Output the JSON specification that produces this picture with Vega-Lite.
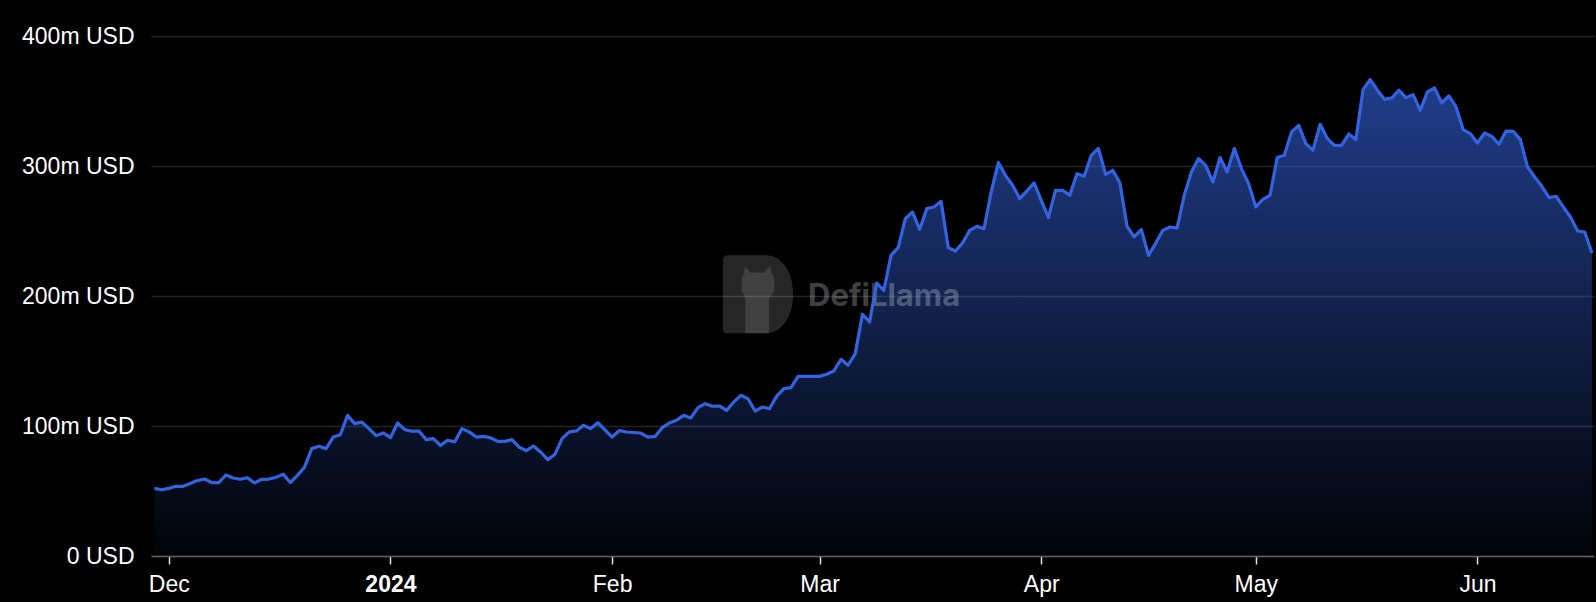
{
  "$schema": "https://vega.github.io/schema/vega-lite/v6.json",
  "width": 1443,
  "height": 520,
  "autosize": {"type": "none"},
  "padding": {"left": 151, "right": 2, "top": 36, "bottom": 46},
  "background": "#000000",
  "config": {
    "view": {"stroke": null},
    "font": "Liberation Sans",
    "axis": {"labelFont": "Liberation Sans"}
  },
  "datasets": {
    "tvl": [
      {"date": "2023-11-29", "tvl": 52}, {"date": "2023-11-30", "tvl": 51},
      {"date": "2023-12-01", "tvl": 52}, {"date": "2023-12-02", "tvl": 53.6}, {"date": "2023-12-03", "tvl": 53.6},
      {"date": "2023-12-04", "tvl": 55.7}, {"date": "2023-12-05", "tvl": 58}, {"date": "2023-12-06", "tvl": 59.2},
      {"date": "2023-12-07", "tvl": 56.5}, {"date": "2023-12-08", "tvl": 56.5}, {"date": "2023-12-09", "tvl": 62.3},
      {"date": "2023-12-10", "tvl": 60}, {"date": "2023-12-11", "tvl": 59}, {"date": "2023-12-12", "tvl": 60.2},
      {"date": "2023-12-13", "tvl": 56.2}, {"date": "2023-12-14", "tvl": 59}, {"date": "2023-12-15", "tvl": 59.2},
      {"date": "2023-12-16", "tvl": 60.5}, {"date": "2023-12-17", "tvl": 63}, {"date": "2023-12-18", "tvl": 56.5},
      {"date": "2023-12-19", "tvl": 62}, {"date": "2023-12-20", "tvl": 68.5}, {"date": "2023-12-21", "tvl": 82.6},
      {"date": "2023-12-22", "tvl": 84.4}, {"date": "2023-12-23", "tvl": 82.6}, {"date": "2023-12-24", "tvl": 91.5},
      {"date": "2023-12-25", "tvl": 93.3}, {"date": "2023-12-26", "tvl": 108.2}, {"date": "2023-12-27", "tvl": 101.8},
      {"date": "2023-12-28", "tvl": 103}, {"date": "2023-12-29", "tvl": 98}, {"date": "2023-12-30", "tvl": 92.6},
      {"date": "2023-12-31", "tvl": 94.7}, {"date": "2024-01-01", "tvl": 91}, {"date": "2024-01-02", "tvl": 102.3},
      {"date": "2024-01-03", "tvl": 97.2}, {"date": "2024-01-04", "tvl": 96}, {"date": "2024-01-05", "tvl": 96},
      {"date": "2024-01-06", "tvl": 89.5}, {"date": "2024-01-07", "tvl": 90.3}, {"date": "2024-01-08", "tvl": 85},
      {"date": "2024-01-09", "tvl": 89}, {"date": "2024-01-10", "tvl": 87.8}, {"date": "2024-01-11", "tvl": 98},
      {"date": "2024-01-12", "tvl": 95.5}, {"date": "2024-01-13", "tvl": 91.5}, {"date": "2024-01-14", "tvl": 92},
      {"date": "2024-01-15", "tvl": 91}, {"date": "2024-01-16", "tvl": 88.2}, {"date": "2024-01-17", "tvl": 88.2},
      {"date": "2024-01-18", "tvl": 89.5}, {"date": "2024-01-19", "tvl": 83.8}, {"date": "2024-01-20", "tvl": 81},
      {"date": "2024-01-21", "tvl": 84.6}, {"date": "2024-01-22", "tvl": 80}, {"date": "2024-01-23", "tvl": 74.1},
      {"date": "2024-01-24", "tvl": 78.2}, {"date": "2024-01-25", "tvl": 90.3}, {"date": "2024-01-26", "tvl": 95.5},
      {"date": "2024-01-27", "tvl": 96.2}, {"date": "2024-01-28", "tvl": 100.5}, {"date": "2024-01-29", "tvl": 98},
      {"date": "2024-01-30", "tvl": 102.5}, {"date": "2024-01-31", "tvl": 97}, {"date": "2024-02-01", "tvl": 91.5},
      {"date": "2024-02-02", "tvl": 96.5}, {"date": "2024-02-03", "tvl": 95.4}, {"date": "2024-02-04", "tvl": 95},
      {"date": "2024-02-05", "tvl": 94.6}, {"date": "2024-02-06", "tvl": 91.5}, {"date": "2024-02-07", "tvl": 92},
      {"date": "2024-02-08", "tvl": 98.7}, {"date": "2024-02-09", "tvl": 102.3}, {"date": "2024-02-10", "tvl": 104.4},
      {"date": "2024-02-11", "tvl": 108.2}, {"date": "2024-02-12", "tvl": 106.2}, {"date": "2024-02-13", "tvl": 114.1},
      {"date": "2024-02-14", "tvl": 117.2}, {"date": "2024-02-15", "tvl": 115.2}, {"date": "2024-02-16", "tvl": 115.4},
      {"date": "2024-02-17", "tvl": 112}, {"date": "2024-02-18", "tvl": 118.4}, {"date": "2024-02-19", "tvl": 123.6},
      {"date": "2024-02-20", "tvl": 121}, {"date": "2024-02-21", "tvl": 111.5}, {"date": "2024-02-22", "tvl": 114.6},
      {"date": "2024-02-23", "tvl": 113.3}, {"date": "2024-02-24", "tvl": 122.8}, {"date": "2024-02-25", "tvl": 128.7},
      {"date": "2024-02-26", "tvl": 129.5}, {"date": "2024-02-27", "tvl": 138.2}, {"date": "2024-02-28", "tvl": 138.2},
      {"date": "2024-02-29", "tvl": 138.2}, {"date": "2024-03-01", "tvl": 138.2}, {"date": "2024-03-02", "tvl": 139.8},
      {"date": "2024-03-03", "tvl": 142.3}, {"date": "2024-03-04", "tvl": 151.3}, {"date": "2024-03-05", "tvl": 146.7},
      {"date": "2024-03-06", "tvl": 155.7}, {"date": "2024-03-07", "tvl": 185.9}, {"date": "2024-03-08", "tvl": 180},
      {"date": "2024-03-09", "tvl": 210}, {"date": "2024-03-10", "tvl": 204.4}, {"date": "2024-03-11", "tvl": 231.3},
      {"date": "2024-03-12", "tvl": 237.2}, {"date": "2024-03-13", "tvl": 259.5}, {"date": "2024-03-14", "tvl": 264.6},
      {"date": "2024-03-15", "tvl": 251.1}, {"date": "2024-03-16", "tvl": 267.2}, {"date": "2024-03-17", "tvl": 268.5},
      {"date": "2024-03-18", "tvl": 272.8}, {"date": "2024-03-19", "tvl": 237.2}, {"date": "2024-03-20", "tvl": 234.6},
      {"date": "2024-03-21", "tvl": 240.8}, {"date": "2024-03-22", "tvl": 250.5}, {"date": "2024-03-23", "tvl": 253.6},
      {"date": "2024-03-24", "tvl": 251.8}, {"date": "2024-03-25", "tvl": 280}, {"date": "2024-03-26", "tvl": 302.6},
      {"date": "2024-03-27", "tvl": 292.8}, {"date": "2024-03-28", "tvl": 285.2}, {"date": "2024-03-29", "tvl": 274.9},
      {"date": "2024-03-30", "tvl": 280.8}, {"date": "2024-03-31", "tvl": 287}, {"date": "2024-04-01", "tvl": 273.6},
      {"date": "2024-04-02", "tvl": 260.3}, {"date": "2024-04-03", "tvl": 281.3}, {"date": "2024-04-04", "tvl": 281.3},
      {"date": "2024-04-05", "tvl": 277.5}, {"date": "2024-04-06", "tvl": 294.1}, {"date": "2024-04-07", "tvl": 292.1},
      {"date": "2024-04-08", "tvl": 308.2}, {"date": "2024-04-09", "tvl": 313.5}, {"date": "2024-04-10", "tvl": 293.6},
      {"date": "2024-04-11", "tvl": 296.7}, {"date": "2024-04-12", "tvl": 287}, {"date": "2024-04-13", "tvl": 253.6},
      {"date": "2024-04-14", "tvl": 245.4}, {"date": "2024-04-15", "tvl": 251}, {"date": "2024-04-16", "tvl": 231.3},
      {"date": "2024-04-17", "tvl": 240.5}, {"date": "2024-04-18", "tvl": 250.5}, {"date": "2024-04-19", "tvl": 253.1},
      {"date": "2024-04-20", "tvl": 252.3}, {"date": "2024-04-21", "tvl": 277.5}, {"date": "2024-04-22", "tvl": 295.4},
      {"date": "2024-04-23", "tvl": 305.7}, {"date": "2024-04-24", "tvl": 300.5}, {"date": "2024-04-25", "tvl": 287.7},
      {"date": "2024-04-26", "tvl": 306.5}, {"date": "2024-04-27", "tvl": 295.4}, {"date": "2024-04-28", "tvl": 313.4},
      {"date": "2024-04-29", "tvl": 298}, {"date": "2024-04-30", "tvl": 286.4}, {"date": "2024-05-01", "tvl": 268.5},
      {"date": "2024-05-02", "tvl": 274.4}, {"date": "2024-05-03", "tvl": 277.5}, {"date": "2024-05-04", "tvl": 306.5},
      {"date": "2024-05-05", "tvl": 308.2}, {"date": "2024-05-06", "tvl": 326.2}, {"date": "2024-05-07", "tvl": 331.3},
      {"date": "2024-05-08", "tvl": 317.2}, {"date": "2024-05-09", "tvl": 312.1}, {"date": "2024-05-10", "tvl": 332.1},
      {"date": "2024-05-11", "tvl": 321.1}, {"date": "2024-05-12", "tvl": 315.9}, {"date": "2024-05-13", "tvl": 315.9},
      {"date": "2024-05-14", "tvl": 324.6}, {"date": "2024-05-15", "tvl": 320.3}, {"date": "2024-05-16", "tvl": 358.8},
      {"date": "2024-05-17", "tvl": 366.5}, {"date": "2024-05-18", "tvl": 358.3}, {"date": "2024-05-19", "tvl": 351.3},
      {"date": "2024-05-20", "tvl": 352.3}, {"date": "2024-05-21", "tvl": 358.3}, {"date": "2024-05-22", "tvl": 352.6},
      {"date": "2024-05-23", "tvl": 354.9}, {"date": "2024-05-24", "tvl": 342.8}, {"date": "2024-05-25", "tvl": 357},
      {"date": "2024-05-26", "tvl": 360}, {"date": "2024-05-27", "tvl": 348.5}, {"date": "2024-05-28", "tvl": 353.9},
      {"date": "2024-05-29", "tvl": 345.4}, {"date": "2024-05-30", "tvl": 328}, {"date": "2024-05-31", "tvl": 324.9},
      {"date": "2024-06-01", "tvl": 317.7}, {"date": "2024-06-02", "tvl": 325.4}, {"date": "2024-06-03", "tvl": 322.8},
      {"date": "2024-06-04", "tvl": 316.7}, {"date": "2024-06-05", "tvl": 326.9}, {"date": "2024-06-06", "tvl": 326.7},
      {"date": "2024-06-07", "tvl": 320.3}, {"date": "2024-06-08", "tvl": 299.2}, {"date": "2024-06-09", "tvl": 291.5},
      {"date": "2024-06-10", "tvl": 284.4}, {"date": "2024-06-11", "tvl": 275.7}, {"date": "2024-06-12", "tvl": 276.7},
      {"date": "2024-06-13", "tvl": 268.5}, {"date": "2024-06-14", "tvl": 260.8}, {"date": "2024-06-15", "tvl": 250},
      {"date": "2024-06-16", "tvl": 249.2}, {"date": "2024-06-17", "tvl": 233.1}
    ],
    "watermark": [{"label": "DefiLlama"}]
  },
  "data": {"name": "tvl"},
  "layer": [
    {
      "mark": {
        "type": "area",
        "color": {
          "gradient": "linear",
          "x1": 0, "y1": 0, "x2": 0, "y2": 1,
          "stops": [
            {"offset": 0, "color": "rgba(51,99,224,0.62)"},
            {"offset": 1, "color": "rgba(51,99,224,0.03)"}
          ]
        }
      },
      "encoding": {
        "x": {
          "field": "date",
          "type": "temporal",
          "scale": {
            "type": "utc",
            "domain": [1701174600000, 1718607600000]
          },
          "axis": {
            "title": null,
            "grid": false,
            "values": [1701388800000, 1704067200000, 1706745600000, 1709251200000, 1711929600000, 1714521600000, 1717200000000],
            "labelExpr": "utcmonth(datum.value) == 0 ? utcFormat(datum.value, '%Y') : utcFormat(datum.value, '%b')",
            "labelFontWeight": {"condition": {"test": "utcmonth(datum.value) == 0", "value": "bold"}, "value": "normal"},
            "labelFontSize": 23,
            "labelColor": "#ffffff",
            "labelPadding": 9,
            "labelFlush": false,
            "labelOverlap": false,
            "domainColor": "#5f5f5f",
            "domainWidth": 1.5,
            "tickColor": "#e0e0e0",
            "tickSize": 8,
            "tickWidth": 1.5,
            "zindex": 1
          }
        },
        "y": {
          "field": "tvl",
          "type": "quantitative",
          "scale": {"domain": [0, 400], "nice": false, "zero": true},
          "axis": {
            "title": null,
            "values": [0, 100, 200, 300, 400],
            "labelExpr": "datum.value == 0 ? '0 USD' : datum.value + 'm USD'",
            "domain": false,
            "ticks": false,
            "tickSize": 0,
            "labelPadding": 17,
            "labelFontSize": 23,
            "labelColor": "#ffffff",
            "gridColor": "#242424",
            "gridWidth": 1.3
          }
        }
      }
    },
    {
      "data": {"name": "watermark"},
      "mark": {
        "type": "point",
        "shape": "M -0.78 -1 L 0.2 -1 C 0.62 -1 0.9 -0.55 0.9 0 C 0.9 0.55 0.62 1 0.2 1 L -0.78 1 Q -0.9 1 -0.9 0.88 L -0.9 -0.88 Q -0.9 -1 -0.78 -1 Z",
        "filled": true,
        "fill": "#ffffff",
        "fillOpacity": 0.15,
        "strokeWidth": 0,
        "size": 6084
      },
      "encoding": {
        "x": {"datum": 1708508160000, "type": "temporal"},
        "y": {"datum": 201.3, "type": "quantitative"}
      }
    },
    {
      "data": {"name": "watermark"},
      "mark": {
        "type": "point",
        "shape": "M -0.33 1 L -0.33 0.1 L -0.42 -0.1 L -0.42 -0.4 L -0.36 -0.55 L -0.33 -0.72 L -0.2 -0.56 L 0.15 -0.56 L 0.31 -0.72 L 0.35 -0.55 L 0.42 -0.4 L 0.42 -0.1 L 0.28 0.1 L 0.28 1 Z",
        "filled": true,
        "fill": "#ffffff",
        "fillOpacity": 0.12,
        "strokeWidth": 0,
        "size": 6084
      },
      "encoding": {
        "x": {"datum": 1708508160000, "type": "temporal"},
        "y": {"datum": 201.3, "type": "quantitative"}
      }
    },
    {
      "data": {"name": "watermark"},
      "mark": {
        "type": "text",
        "align": "left",
        "baseline": "middle",
        "font": "Inter",
        "fontWeight": "bold",
        "fontSize": 31,
        "fill": "#ffffff",
        "fillOpacity": 0.27
      },
      "encoding": {
        "x": {"datum": 1709112960000, "type": "temporal"},
        "y": {"datum": 199, "type": "quantitative"},
        "text": {"field": "label"}
      }
    },
    {
      "mark": {
        "type": "line",
        "color": "#3363e0",
        "strokeWidth": 3.2,
        "strokeJoin": "round"
      },
      "encoding": {
        "x": {"field": "date", "type": "temporal"},
        "y": {"field": "tvl", "type": "quantitative"}
      }
    }
  ]
}
